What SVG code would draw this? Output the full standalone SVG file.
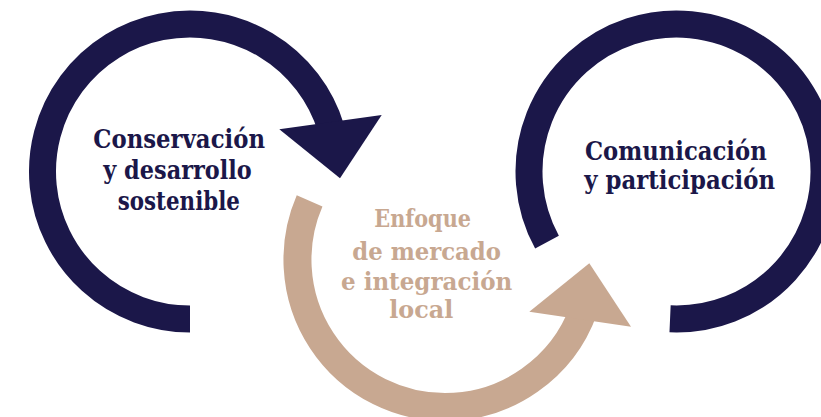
<svg xmlns="http://www.w3.org/2000/svg" width="821" height="417" viewBox="0 0 821 417">
  <style>
    .navy-ring { fill: none; stroke: #1b1749; stroke-width: 27; }
    .tan-ring { fill: none; stroke: #c8a891; stroke-width: 28; }
    .navy-head { fill: #1b1749; }
    .tan-head { fill: #c8a891; }
    .lbl { font-family: "DejaVu Serif", "Liberation Serif", serif; font-weight: bold; }
    .navy-txt { fill: #1b1749; font-size: 26px; }
    .tan-txt { fill: #c8a891; font-size: 24px; }
  </style>
  <rect width="821" height="417" fill="#ffffff"/>
  <g id="conservacion">
    <path class="navy-ring" d="M 190 319 A 147.5 147.5 0 1 1 331.05 128.37"/>
    <polygon class="navy-head" points="279.3,129.3 381.7,115 340,178.3"/>
    <g class="lbl navy-txt">
      <text x="93.3" y="148.3" textLength="171.7" lengthAdjust="spacingAndGlyphs">Conservación</text>
      <text x="103.3" y="179.3" textLength="148.4" lengthAdjust="spacingAndGlyphs">y desarrollo</text>
      <text x="117.7" y="210" textLength="122.3" lengthAdjust="spacingAndGlyphs">sostenible</text>
    </g>
  </g>
  <g id="enfoque">
    <path class="tan-ring" d="M 309.6 200.9 A 147.5 147.5 0 0 0 445 407 A 147.5 147.5 0 0 0 583.6 309.9"/>
    <polygon class="tan-head" points="529.3,311.7 589.3,263.3 631,326.7"/>
    <g class="lbl tan-txt">
      <text x="374.3" y="227.3" textLength="96.7" lengthAdjust="spacingAndGlyphs">Enfoque</text>
      <text x="352.3" y="260" textLength="148.7" lengthAdjust="spacingAndGlyphs">de mercado</text>
      <text x="341" y="290" textLength="171.3" lengthAdjust="spacingAndGlyphs">e integración</text>
      <text x="389.3" y="318.3" textLength="64" lengthAdjust="spacingAndGlyphs">local</text>
    </g>
  </g>
  <g id="comunicacion">
    <path class="navy-ring" d="M 547 242.1 A 147.5 147.5 0 1 1 670.07 318.86"/>
    <g class="lbl navy-txt">
      <text x="585" y="160" textLength="181.7" lengthAdjust="spacingAndGlyphs">Comunicación</text>
      <text x="584.3" y="189" textLength="190.7" lengthAdjust="spacingAndGlyphs">y participación</text>
    </g>
  </g>
  <g id="connectors"></g>
</svg>
